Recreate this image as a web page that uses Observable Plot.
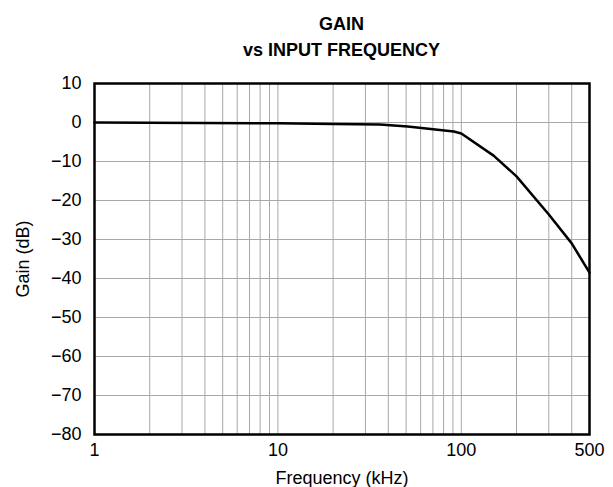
<!DOCTYPE html>
<html><head><meta charset="utf-8">
<script src="https://cdn.jsdelivr.net/npm/d3@7"></script>
<script src="https://cdn.jsdelivr.net/npm/@observablehq/plot@0.6"></script>
<style>
body{margin:0;background:#fff;font-family:"Liberation Sans",Arial,sans-serif;}
#title{width:613px;box-sizing:border-box;padding-left:94px;padding-right:24px;text-align:center;font-weight:bold;font-size:18px;line-height:26px;height:70px;padding-top:11px;color:#000;}
svg{display:block;overflow:visible;}
</style></head>
<body>
<div id="title">GAIN<br>vs INPUT FREQUENCY</div>
<div id="chart"></div>
<script>
const freq = [1, 10, 20, 36, 51, 91, 100, 150, 200, 300, 400, 500];
const gain = [0, -0.2, -0.4, -0.5, -1.0, -2.3, -2.8, -8.5, -13.8, -23.6, -31, -38.5];
const xGrid = [2,3,4,5,6,7,8,9,10,20,30,40,50,60,70,80,90,100,200,300,400];
const xTicks = [1, 10, 100, 500];
const yTicks = [-80,-70,-60,-50,-40,-30,-20,-10,0,10];

const FONT = '"Liberation Sans", Arial, sans-serif';
const FS = 18;
const data = freq.map((f,i)=>({f, g: gain[i]}));
const chart = Plot.plot({
  width: 613, height: 417,
  marginLeft: 94, marginRight: 24, marginTop: 13, marginBottom: 53,
  style: {fontFamily: FONT, fontSize: FS + "px", color: "#000", background: "#fff", overflow: "visible"},
  x: {type: "log", domain: [1, 500]},
  y: {domain: [-80, 10]},
  marks: [
    Plot.ruleX(xGrid, {stroke: "#a8a8a8", strokeWidth: 1, strokeOpacity: 1}),
    Plot.ruleY(yTicks, {stroke: "#a8a8a8", strokeWidth: 1, strokeOpacity: 1}),
    Plot.text(xTicks, {x: d => d, frameAnchor: "bottom", dy: 21, text: d => String(d), fontSize: FS, fill: "#000"}),
    Plot.axisX({ticks: [], tickSize: 0, fontSize: FS,
      label: "Frequency (kHz)", labelAnchor: "center", labelOffset: 49, labelArrow: "none"}),
    Plot.axisY(yTicks, {tickSize: 0, tickPadding: 13, fontSize: FS,
      tickFormat: d => d < 0 ? "\u2212" + Math.abs(d) : String(d),
      label: "Gain (dB)", labelAnchor: "center", labelOffset: 78, labelArrow: "none"}),
    Plot.line(data, {x: "f", y: "g", stroke: "#000", strokeWidth: 2.5}),
    Plot.frame({stroke: "#000", strokeWidth: 2.5})
  ]
});
document.getElementById("chart").appendChild(chart);
</script>
</body></html>
